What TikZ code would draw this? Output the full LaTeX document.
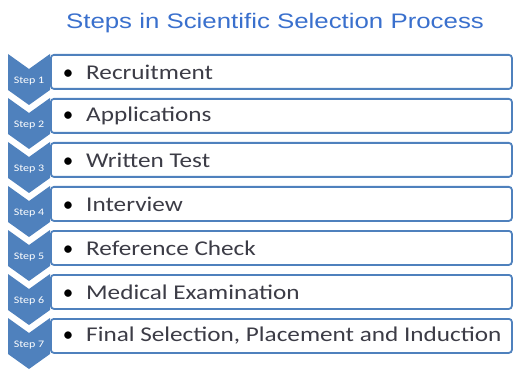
\documentclass[tikz,border=0pt]{standalone}
\usepackage{fontspec}
\setmainfont{Carlito}
\newfontfamily\titlefont{Liberation Sans}
\definecolor{stepblue}{RGB}{79,129,189}
\definecolor{titleblue}{RGB}{58,112,205}
\definecolor{itemgrey}{RGB}{60,60,70}
\tikzstyle{chevron}=[fill=stepblue]
\tikzstyle{steplabel}=[text=white, inner sep=0, font=\fontsize{10}{10}\selectfont]
\tikzstyle{stepbox}=[draw=stepblue, line width=1.8, fill=white, rounded corners=3, minimum width=461, minimum height=34, anchor=north west]
\tikzstyle{bullet}=[anchor=base, inner sep=0, text=black, font=\fontsize{21}{22}\selectfont]
\tikzstyle{item}=[anchor=west, inner sep=0, text=itemgrey, font=\fontsize{21}{22}\selectfont]

\begin{document}
\begin{tikzpicture}[x=1pt, y=-1pt]
      \useasboundingbox (0, 0) rectangle (513, 371);
      \node[text=titleblue, font=\titlefont\fontsize{21}{22}\selectfont] (title) at (275, 23) {\scalebox{1.23}[1]{Steps in Scientific Selection Process}};

      % boxes first, chevrons go on top
      \node[stepbox] (box1) at (50, 54) {};
      \node[stepbox] (box2) at (50, 98) {};
      \node[stepbox] (box3) at (50, 142) {};
      \node[stepbox] (box4) at (50, 186) {};
      \node[stepbox] (box5) at (50, 230) {};
      \node[stepbox] (box6) at (50, 274) {};
      \node[stepbox] (box7) at (50, 318) {};

      \fill[chevron] (8, 54) -- ++(21, 15) -- ++(21, -15) -- ++(0, 36) -- ++(-21, 15) -- ++(-21, -15) -- cycle;
      \fill[chevron] (8, 98) -- ++(21, 15) -- ++(21, -15) -- ++(0, 36) -- ++(-21, 15) -- ++(-21, -15) -- cycle;
      \fill[chevron] (8, 142) -- ++(21, 15) -- ++(21, -15) -- ++(0, 36) -- ++(-21, 15) -- ++(-21, -15) -- cycle;
      \fill[chevron] (8, 186) -- ++(21, 15) -- ++(21, -15) -- ++(0, 36) -- ++(-21, 15) -- ++(-21, -15) -- cycle;
      \fill[chevron] (8, 230) -- ++(21, 15) -- ++(21, -15) -- ++(0, 36) -- ++(-21, 15) -- ++(-21, -15) -- cycle;
      \fill[chevron] (8, 274) -- ++(21, 15) -- ++(21, -15) -- ++(0, 36) -- ++(-21, 15) -- ++(-21, -15) -- cycle;
      \fill[chevron] (8, 318) -- ++(21, 15) -- ++(21, -15) -- ++(0, 36) -- ++(-21, 15) -- ++(-21, -15) -- cycle;

      \node[steplabel] (step1) at (29, 81) {\scalebox{1.2}[1]{Step 1}};
      \node[steplabel] (step2) at (29, 125) {\scalebox{1.2}[1]{Step 2}};
      \node[steplabel] (step3) at (29, 169) {\scalebox{1.2}[1]{Step 3}};
      \node[steplabel] (step4) at (29, 213) {\scalebox{1.2}[1]{Step 4}};
      \node[steplabel] (step5) at (29, 257) {\scalebox{1.2}[1]{Step 5}};
      \node[steplabel] (step6) at (29, 301) {\scalebox{1.2}[1]{Step 6}};
      \node[steplabel] (step7) at (29, 345) {\scalebox{1.2}[1]{Step 7}};

      \node[item] (item1) at ([xshift=36]box1.west) {\scalebox{1.2}[1]{Recruitment}};
      \node[item] (item2) at ([xshift=36]box2.west) {\scalebox{1.2}[1]{Applications}};
      \node[item] (item3) at ([xshift=36]box3.west) {\scalebox{1.2}[1]{Written Test}};
      \node[item] (item4) at ([xshift=36]box4.west) {\scalebox{1.2}[1]{Interview}};
      \node[item] (item5) at ([xshift=36]box5.west) {\scalebox{1.2}[1]{Reference Check}};
      \node[item] (item6) at ([xshift=36]box6.west) {\scalebox{1.2}[1]{Medical Examination}};
      \node[item] (item7) at ([xshift=36]box7.west) {\scalebox{1.2}[1]{Final Selection, Placement and Induction}};

      \node[bullet] (dot1) at ([xshift=-18]item1.base west) {\textbullet};
      \node[bullet] (dot2) at ([xshift=-18]item2.base west) {\textbullet};
      \node[bullet] (dot3) at ([xshift=-18]item3.base west) {\textbullet};
      \node[bullet] (dot4) at ([xshift=-18]item4.base west) {\textbullet};
      \node[bullet] (dot5) at ([xshift=-18]item5.base west) {\textbullet};
      \node[bullet] (dot6) at ([xshift=-18]item6.base west) {\textbullet};
      \node[bullet] (dot7) at ([xshift=-18]item7.base west) {\textbullet};
    \end{tikzpicture}
\end{document}
